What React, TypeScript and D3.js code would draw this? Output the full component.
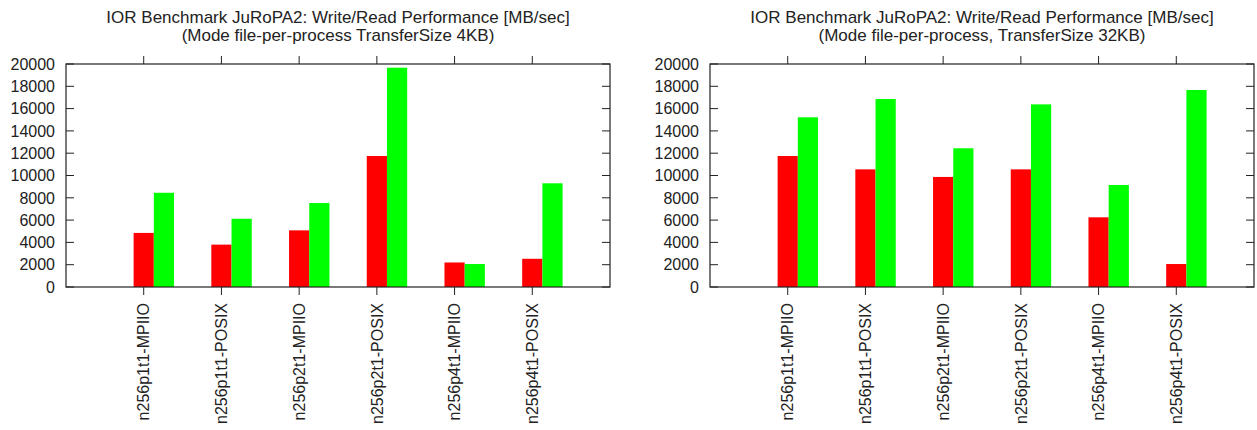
import React from 'react';
import * as d3 from 'd3';

// benchmark runs, same for both panels
const categories = [
  'n256p1t1-MPIIO',
  'n256p1t1-POSIX',
  'n256p2t1-MPIIO',
  'n256p2t1-POSIX',
  'n256p4t1-MPIIO',
  'n256p4t1-POSIX',
];

// MB/sec, TransferSize 4KB
const write4k = [4850, 3800, 5080, 11750, 2200, 2530];
const read4k = [8450, 6120, 7530, 19670, 2060, 9300];

// MB/sec, TransferSize 32KB
const write32k = [11750, 10550, 9870, 10550, 6250, 2060];
const read32k = [15220, 16860, 12440, 16380, 9150, 17670];

const yTicks = [0, 2000, 4000, 6000, 8000, 10000, 12000, 14000, 16000, 18000, 20000];

const titleLine1 = 'IOR Benchmark JuRoPA2: Write/Read Performance [MB/sec]';
const subtitle4k = '(Mode file-per-process TransferSize 4KB)';
const subtitle32k = '(Mode file-per-process, TransferSize 32KB)';

const FONT = '"Liberation Sans", Arial, sans-serif';
const INK = '#222';

type PanelProps = {
  left: number;
  right: number;
  subtitle: string;
  write: number[];
  read: number[];
};

function Panel({left, right, subtitle, write, read}: PanelProps) {
  const top = 64;
  const bottom = 287;
  const x = d3.scaleLinear().domain([0, categories.length + 1]).range([left, right]);
  const y = d3.scaleLinear().domain([0, 20000]).range([bottom, top]);
  const barW = 0.26; // in category units
  const tick = 8;
  const cx = (left + right) / 2;

  return (
    <g fontFamily={FONT} fill={INK}>
      <text x={cx} y={23} textAnchor="middle" fontSize={17}>{titleLine1}</text>
      <text x={cx} y={41} textAnchor="middle" fontSize={17}>{subtitle}</text>

      {categories.map((c, i) => {
        const p = i + 1;
        return (
          <g key={c}>
            <rect x={x(p - barW / 2)} y={y(write[i])}
              width={x(p + barW / 2) - x(p - barW / 2)} height={y(0) - y(write[i])}
              fill="#ff0000" />
            <rect x={x(p + barW / 2)} y={y(read[i])}
              width={x(p + 1.5 * barW) - x(p + barW / 2)} height={y(0) - y(read[i])}
              fill="#00ff00" />
          </g>
        );
      })}

      {/* border */}
      <rect x={left} y={top} width={right - left} height={bottom - top}
        fill="none" stroke={INK} strokeWidth={1.2} />

      {yTicks.map((t) => (
        <g key={t}>
          <line x1={left} x2={left + tick} y1={y(t)} y2={y(t)} stroke={INK} />
          <line x1={right - tick} x2={right} y1={y(t)} y2={y(t)} stroke={INK} />
          <text x={left - 11} y={y(t)} dy="0.36em" textAnchor="end" fontSize={16}>{t}</text>
        </g>
      ))}

      {categories.map((c, i) => {
        const px = x(i + 1);
        return (
          <g key={'t' + c}>
            <line x1={px} x2={px} y1={bottom} y2={bottom + tick} stroke={INK} />
            <line x1={px} x2={px} y1={top - tick} y2={top} stroke={INK} />
            <text transform={`translate(${px},${bottom + 16}) rotate(-90)`}
              dy="0.36em" textAnchor="end" fontSize={16}>{c}</text>
          </g>
        );
      })}
    </g>
  );
}

export default function App() {
  return (
    <svg width={1257} height={430}
      style={{position: 'absolute', left: 0, top: 0, background: '#fff'}}>
      <Panel left={66} right={610} subtitle={subtitle4k} write={write4k} read={read4k} />
      <Panel left={710} right={1254} subtitle={subtitle32k} write={write32k} read={read32k} />
    </svg>
  );
}
